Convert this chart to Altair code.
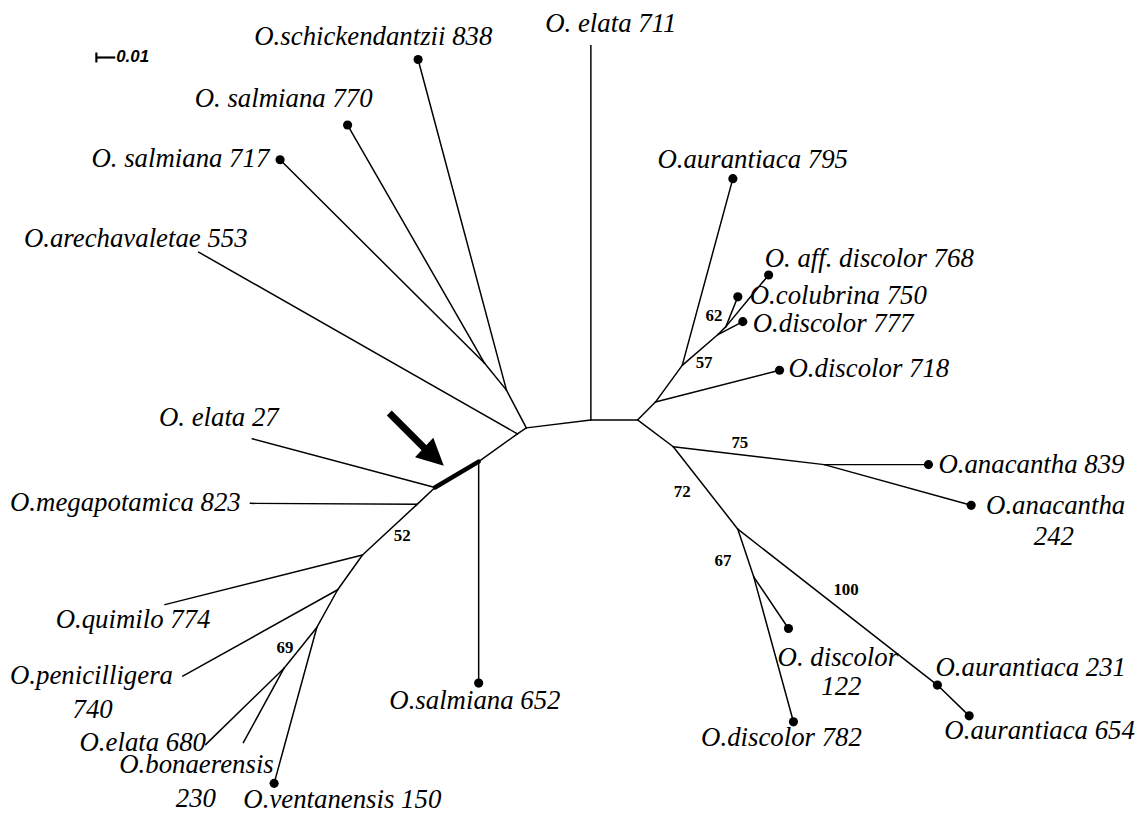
import altair as alt
import pandas as pd

# ---------------- tree nodes (positions) ----------------
node_names = ["R", "T", "A", "B", "C", "Ar", "S", "E27", "M", "Q", "P", "N69", "N680",
              "D", "E", "F", "G", "N75", "H839", "N72", "N67",
              "L711", "L838", "L770", "L717", "L553", "L27", "L823", "L652", "L774",
              "L740", "L150", "L680", "L230",
              "L795", "L768", "L750", "L777", "L718", "L839", "L242", "L231", "L654",
              "L122", "L782"]
node_x = [642, 595, 530, 510, 488, 521, 482, 438, 420, 365, 340, 319, 286,
          660, 687, 723, 731, 678, 830, 743, 759,
          595, 421, 350, 282, 200, 254, 252, 482, 166,
          184, 276, 207, 245,
          738, 774, 743, 748, 785, 935, 978, 944, 976,
          794, 799]
node_y = [420, 420, 428, 390, 363, 434, 462, 488, 505, 556, 591, 629, 670,
          402, 365, 334, 326, 447, 465, 530, 578,
          43, 57, 123, 158, 251, 439, 504, 685, 606,
          678, 786, 747, 745,
          177, 274, 296, 321, 370, 465, 506, 687, 718,
          630, 724]

# branches (parent -> child)
edge_from = ["T", "A", "A", "B", "C", "C", "B", "A", "Ar", "Ar", "S", "E27", "E27",
             "M", "M", "Q", "Q", "P", "P", "N69", "N69", "N680", "N680", "T",
             "R", "D", "D", "E", "E", "F", "F", "G", "G",
             "R", "N75", "H839", "H839", "N75", "N72", "L231", "N72", "N67", "N67"]
edge_to = ["R", "T", "B", "C", "L717", "L770", "L838", "Ar", "L553", "S", "L652", "L27", "M",
           "L823", "Q", "L774", "P", "L740", "N69", "L150", "N680", "L680", "L230", "L711",
           "D", "L718", "E", "L795", "F", "L777", "G", "L750", "L768",
           "N75", "H839", "L839", "L242", "N72", "L231", "L654", "N67", "L122", "L782"]

# highlighted (bold) branch
thick_from = ["S"]
thick_to = ["E27"]

# terminal taxa marked with a dot
dot_nodes = ["L838", "L770", "L717", "L652", "L150", "L795", "L768", "L750", "L777",
             "L718", "L839", "L242", "L231", "L654", "L122", "L782"]

# taxon labels
label_text = ["O. elata 711", "O.schickendantzii 838", "O. salmiana 770", "O. salmiana 717",
              "O.arechavaletae 553", "O.aurantiaca 795", "O. aff. discolor 768",
              "O.colubrina 750", "O.discolor 777", "O.discolor 718", "O. elata 27",
              "O.megapotamica 823", "O.anacantha 839", "O.anacantha", "242",
              "O.quimilo 774", "O.penicilligera", "740", "O.salmiana 652", "O. discolor",
              "122", "O.aurantiaca 231", "O.elata 680", "O.bonaerensis", "230",
              "O.ventanensis 150", "O.discolor 782", "O.aurantiaca 654"]
label_x = [549, 256, 196, 92, 24, 662, 770, 755, 758, 794, 160, 10, 945, 993, 1041,
           56, 10, 73, 392, 783, 827, 942, 80, 120, 177, 245, 706, 951]
label_y = [21, 34, 97, 157, 238, 158, 258, 295, 323, 369, 418, 504, 465, 507, 538,
           622, 678, 712, 703, 660, 689, 670, 745, 768, 802, 803, 740, 733]

# bootstrap support values
boot_text = ["62", "57", "75", "72", "67", "100", "52", "69"]
boot_x = [719, 709, 745, 687, 728, 852, 405, 287]
boot_y = [315, 363, 443, 493, 562, 591, 537, 650]

# pointer arrow
arrow_x = [392, 428]
arrow_y = [413, 449]
arrow_head_x = [437]
arrow_head_y = [457]

# scale bar
bar_x = [97, 116]
bar_y = [55, 55]
bar_label = ["0.01"]

# ---------------- build tables ----------------
pos = {n: (x, y) for n, x, y in zip(node_names, node_x, node_y)}


def seg_table(fr, to):
    return pd.DataFrame({
        "x": [pos[a][0] for a in fr], "y": [pos[a][1] for a in fr],
        "x2": [pos[b][0] for b in to], "y2": [pos[b][1] for b in to],
    })


edges = seg_table(edge_from, edge_to)
thick = seg_table(thick_from, thick_to)
dots = pd.DataFrame({"x": [pos[n][0] for n in dot_nodes], "y": [pos[n][1] for n in dot_nodes]})
labels = pd.DataFrame({"t": label_text, "x": label_x, "y": label_y})
boots = pd.DataFrame({"t": boot_text, "x": boot_x, "y": boot_y})
shaft = pd.DataFrame({"x": [arrow_x[0]], "y": [arrow_y[0]], "x2": [arrow_x[1]], "y2": [arrow_y[1]]})
head = pd.DataFrame({"x": arrow_head_x, "y": arrow_head_y})
bar = pd.DataFrame({"x": [bar_x[0]], "y": [bar_y[0]], "x2": [bar_x[1]], "y2": [bar_y[1]]})
bar_tick = pd.DataFrame({"x": [bar_x[0]], "y": [bar_y[0] - 5], "x2": [bar_x[0]], "y2": [bar_y[0] + 5]})
bar_text = pd.DataFrame({"t": bar_label, "x": [bar_x[1] + 1], "y": [bar_y[0]]})

xs = alt.Scale(domain=[8, 1145], nice=False, zero=False)
ys = alt.Scale(domain=[8, 815], reverse=True, nice=False, zero=False)
X = alt.X("x:Q", scale=xs, axis=None)
Y = alt.Y("y:Q", scale=ys, axis=None)


def rules(df, width, cap="round"):
    return alt.Chart(df).mark_rule(color="black", strokeWidth=width, strokeCap=cap).encode(
        x=X, y=Y, x2="x2:Q", y2="y2:Q")


branch_layer = rules(edges, 1.5)
thick_layer = rules(thick, 4.5)
shaft_layer = rules(shaft, 7, "butt")
bar_layer = rules(bar, 2.2, "butt")
bar_tick_layer = rules(bar_tick, 2.2, "butt")

head_layer = alt.Chart(head).mark_point(
    shape="M1,0L-1,-1L-1,1Z", filled=True, size=729, angle=43,
    color="black", opacity=1, strokeWidth=0).encode(x=X, y=Y)

dot_layer = alt.Chart(dots).mark_circle(size=85, color="black", opacity=1).encode(x=X, y=Y)

label_layer = alt.Chart(labels).mark_text(
    align="left", baseline="middle", font="Liberation Serif", fontStyle="italic",
    fontSize=27, color="black").encode(x=X, y=Y, text="t:N")

boot_layer = alt.Chart(boots).mark_text(
    align="center", baseline="middle", font="Liberation Serif", fontWeight="bold",
    fontSize=17, color="black").encode(x=X, y=Y, text="t:N")

bar_text_layer = alt.Chart(bar_text).mark_text(
    align="left", baseline="middle", font="Liberation Sans", fontStyle="italic",
    fontWeight="bold", fontSize=17, color="black").encode(x=X, y=Y, text="t:N")

chart = alt.layer(
    branch_layer, thick_layer, shaft_layer, head_layer, dot_layer,
    label_layer, boot_layer, bar_layer, bar_tick_layer, bar_text_layer
).properties(
    width=1137, height=807, padding=0,
    autosize=alt.AutoSizeParams(type="none"),
    background="white",
).configure_view(strokeWidth=0)

chart.save("out.html", embed_options={"renderer": "svg", "actions": False})
